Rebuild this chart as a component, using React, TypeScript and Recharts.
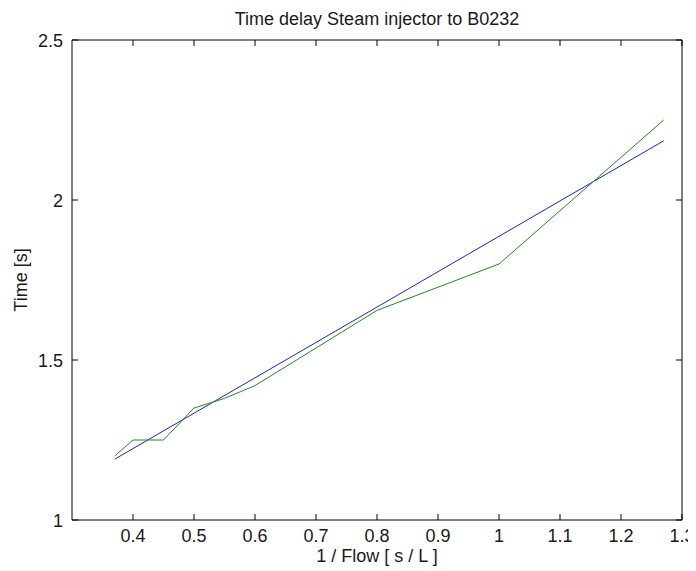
import React from 'react';
import { LineChart, Line, XAxis, YAxis, Label } from 'recharts';

// 1/Flow values and measured time delay (green)
const measuredFlowInv = [0.37, 0.4, 0.45, 0.5, 0.55, 0.6, 0.8, 1.0, 1.27];
const measuredTime = [1.2, 1.25, 1.25, 1.35, 1.38, 1.42, 1.655, 1.8, 2.25];
// linear fit (blue)
const fitFlowInv = [0.37, 1.27];
const fitTime = [1.19, 2.185];

const xTicks = [0.4, 0.5, 0.6, 0.7, 0.8, 0.9, 1, 1.1, 1.2, 1.3];
const yTicks = [1, 1.5, 2, 2.5];

const titleText = 'Time delay Steam injector to B0232';
const xLabelText = '1 / Flow [ s / L ]';
const yLabelText = 'Time [s]';

const measuredData = measuredFlowInv.map((x, i) => ({ x, y: measuredTime[i] }));
const fitData = fitFlowInv.map((x, i) => ({ x, y: fitTime[i] }));

const FONT = "'Liberation Sans', Arial, sans-serif";
const FS = 18;
const TXT = '#1a1a1a';
const TICK = 6;

const fmt = (v: number) => String(Math.round(v * 10) / 10);

const BottomTick = (props: any) => {
  const { x, y, payload } = props;
  return (
    <g>
      <line x1={x} y1={y} x2={x} y2={y - TICK} stroke="#000" strokeWidth={1} />
      <text x={x} y={y + 22} textAnchor="middle" fontSize={FS} fontFamily={FONT} fill={TXT}>
        {fmt(payload.value)}
      </text>
    </g>
  );
};

const TopTick = (props: any) => {
  const { x, y } = props;
  return <line x1={x} y1={y} x2={x} y2={y + TICK} stroke="#000" strokeWidth={1} />;
};

const LeftTick = (props: any) => {
  const { x, y, payload } = props;
  return (
    <g>
      <line x1={x} y1={y} x2={x + TICK} y2={y} stroke="#000" strokeWidth={1} />
      <text x={x - 9} y={y + 6.5} textAnchor="end" fontSize={FS} fontFamily={FONT} fill={TXT}>
        {fmt(payload.value)}
      </text>
    </g>
  );
};

const RightTick = (props: any) => {
  const { x, y } = props;
  return <line x1={x} y1={y} x2={x - TICK} y2={y} stroke="#000" strokeWidth={1} />;
};

const TitleLabel = (props: any) => {
  const vb = props.viewBox || {};
  const cx = vb.x + vb.width / 2;
  return (
    <text x={cx} y={17} textAnchor="middle" fontSize={FS} fontFamily={FONT} fill={TXT}>
      {titleText}
    </text>
  );
};

const XLabel = (props: any) => {
  const vb = props.viewBox || {};
  const cx = vb.x + vb.width / 2;
  return (
    <text x={cx} y={vb.y + 42} textAnchor="middle" fontSize={FS} fontFamily={FONT} fill={TXT}>
      {xLabelText}
    </text>
  );
};

const YLabel = (props: any) => {
  const vb = props.viewBox || {};
  const cx = vb.x + 19;
  const cy = vb.y + vb.height / 2;
  return (
    <text
      x={cx}
      y={cy}
      transform={`rotate(-90 ${cx} ${cy})`}
      textAnchor="middle"
      fontSize={FS}
      fontFamily={FONT}
      fill={TXT}
    >
      {yLabelText}
    </text>
  );
};

export default function App() {
  return (
    <div style={{ width: 688, height: 563, background: '#fff' }}>
      <LineChart
        width={688}
        height={563}
        margin={{ top: 31, right: 13, bottom: 0, left: 0 }}
      >
        <XAxis
          xAxisId="b"
          type="number"
          dataKey="x"
          domain={[0.3, 1.3]}
          ticks={xTicks}
          allowDataOverflow
          height={51}
          tickSize={0}
          tickMargin={0}
          tickLine={false}
          axisLine={{ stroke: '#000', strokeWidth: 1 }}
          tick={<BottomTick />}
          interval={0}
        >
          <Label content={<XLabel />} />
        </XAxis>
        <XAxis
          xAxisId="t"
          orientation="top"
          type="number"
          dataKey="x"
          domain={[0.3, 1.3]}
          ticks={xTicks}
          allowDataOverflow
          height={1}
          tickSize={0}
          tickMargin={0}
          tickLine={false}
          axisLine={{ stroke: '#000', strokeWidth: 1 }}
          tick={<TopTick />}
          interval={0}
        >
          <Label content={<TitleLabel />} />
        </XAxis>
        <YAxis
          yAxisId="l"
          type="number"
          domain={[1, 2.5]}
          ticks={yTicks}
          allowDataOverflow
          width={64}
          tickSize={0}
          tickMargin={0}
          tickLine={false}
          axisLine={{ stroke: '#000', strokeWidth: 1 }}
          tick={<LeftTick />}
          interval={0}
        >
          <Label content={<YLabel />} />
        </YAxis>
        <YAxis
          yAxisId="r"
          orientation="right"
          type="number"
          domain={[1, 2.5]}
          ticks={yTicks}
          allowDataOverflow
          width={1}
          tickSize={0}
          tickMargin={0}
          tickLine={false}
          axisLine={{ stroke: '#000', strokeWidth: 1 }}
          tick={<RightTick />}
          interval={0}
        />
        <Line
          xAxisId="b"
          yAxisId="l"
          data={fitData}
          dataKey="y"
          type="linear"
          stroke="#2020d0"
          strokeWidth={1}
          dot={false}
          activeDot={false}
          isAnimationActive={false}
        />
        <Line
          xAxisId="b"
          yAxisId="l"
          data={measuredData}
          dataKey="y"
          type="linear"
          stroke="#1f8a1f"
          strokeWidth={1}
          dot={false}
          activeDot={false}
          isAnimationActive={false}
        />
      </LineChart>
    </div>
  );
}
